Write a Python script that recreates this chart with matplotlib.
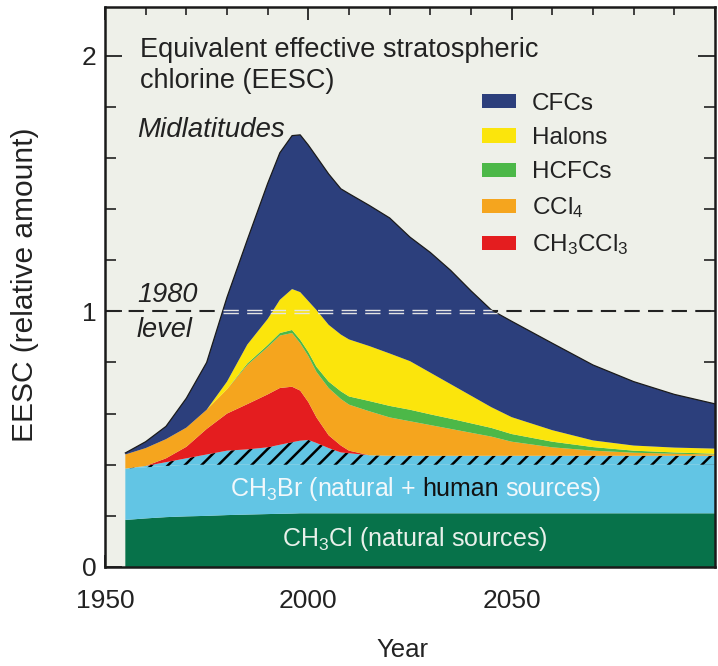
import numpy as np
import matplotlib
matplotlib.use("Agg")
import matplotlib.pyplot as plt
from matplotlib.ticker import MultipleLocator

# ---------------- data (relative EESC contributions, stacked bottom -> top) -------------
years = [1955, 1960, 1965, 1970, 1975, 1980, 1985, 1990, 1993, 1996, 1998, 2000, 2002,
         2005, 2008, 2010, 2015, 2020, 2025, 2030, 2035, 2040, 2045, 2050, 2060, 2070,
         2080, 2090, 2100]

ch3cl = [0.184, 0.190, 0.195, 0.198, 0.200, 0.203, 0.205, 0.207, 0.208, 0.209, 0.210,
         0.210, 0.210, 0.210, 0.210, 0.210, 0.210, 0.210, 0.210, 0.210, 0.210, 0.210,
         0.210, 0.210, 0.210, 0.210, 0.210, 0.210, 0.210]
ch3br_natural = [0.201, 0.200, 0.200, 0.202, 0.200, 0.197, 0.195, 0.193, 0.192, 0.191,
                 0.190, 0.190, 0.190, 0.190, 0.190, 0.190, 0.190, 0.190, 0.190, 0.190,
                 0.190, 0.190, 0.190, 0.190, 0.190, 0.190, 0.190, 0.190, 0.190]
ch3br_human = [0.000, 0.005, 0.015, 0.025, 0.040, 0.055, 0.060, 0.068, 0.078, 0.088,
               0.094, 0.097, 0.085, 0.065, 0.048, 0.045, 0.037, 0.035, 0.035, 0.035,
               0.035, 0.035, 0.035, 0.035, 0.035, 0.035, 0.035, 0.035, 0.035]
ch3ccl3 = [0.000, 0.000, 0.015, 0.045, 0.100, 0.145, 0.177, 0.207, 0.222, 0.217, 0.196,
           0.148, 0.100, 0.050, 0.027, 0.010, 0.000, 0.000, 0.000, 0.000, 0.000, 0.000,
           0.000, 0.000, 0.000, 0.000, 0.000, 0.000, 0.000]
ccl4 = [0.055, 0.070, 0.075, 0.075, 0.075, 0.095, 0.153, 0.185, 0.205, 0.210, 0.185,
        0.180, 0.178, 0.185, 0.182, 0.180, 0.172, 0.150, 0.135, 0.120, 0.105, 0.090,
        0.075, 0.055, 0.033, 0.020, 0.012, 0.008, 0.005]
hcfcs = [0.000, 0.000, 0.000, 0.000, 0.000, 0.000, 0.006, 0.008, 0.010, 0.012, 0.014,
         0.016, 0.020, 0.025, 0.030, 0.032, 0.040, 0.045, 0.045, 0.042, 0.040, 0.037,
         0.034, 0.030, 0.022, 0.014, 0.008, 0.005, 0.003]
halons = [0.000, 0.000, 0.000, 0.000, 0.000, 0.030, 0.074, 0.102, 0.130, 0.160, 0.186,
          0.199, 0.222, 0.222, 0.222, 0.223, 0.215, 0.205, 0.190, 0.163, 0.135, 0.108,
          0.081, 0.066, 0.045, 0.026, 0.020, 0.019, 0.020]
cfcs = [0.006, 0.025, 0.050, 0.115, 0.185, 0.330, 0.410, 0.530, 0.575, 0.600, 0.615,
        0.610, 0.600, 0.590, 0.570, 0.570, 0.550, 0.530, 0.485, 0.470, 0.445, 0.410,
        0.380, 0.375, 0.340, 0.295, 0.250, 0.208, 0.175]

legend_labels = ['CFCs', 'Halons', 'HCFCs', 'CCl$_4$', 'CH$_3$CCl$_3$']
xtick_values = [1950, 2000, 2050, 2100]
xtick_labels = ['1950', '2000', '2050', '']
ytick_values = [0, 1, 2]
ytick_labels = ['0', '1', '2']
level_1980 = 1.0

# ---------------- style -------------
plt.rcParams['font.family'] = ['Liberation Sans', 'DejaVu Sans']
plt.rcParams['mathtext.fontset'] = 'custom'
plt.rcParams['mathtext.rm'] = 'Liberation Sans'
plt.rcParams['mathtext.it'] = 'Liberation Sans:italic'
plt.rcParams['mathtext.bf'] = 'Liberation Sans:bold'
plt.rcParams['hatch.linewidth'] = 1.8
plt.rcParams['hatch.color'] = 'black'
plt.rcParams['lines.scale_dashes'] = False

W, H = 718, 666
fig = plt.figure(figsize=(W / 100, H / 100), dpi=100)
ax = fig.add_axes([105 / W, 1 - 567 / H, 610 / W, 560 / H])
ax.set_facecolor('#eef0e9')
ax.set_xlim(1950, 2100)
ax.set_ylim(0, 2.19)

layers = [ch3cl, ch3br_natural, ch3br_human, ch3ccl3, ccl4, hcfcs, halons, cfcs]
colors = ['#07724a', '#62c5e4', '#62c5e4', '#e41d1f', '#f5a51e', '#4cb848',
          '#fbe50c', '#2c3f7c']
polys = ax.stackplot(years, layers, colors=colors, linewidth=0, zorder=2)
polys[2].set_hatch('//')
polys[2].set_edgecolor('black')
polys[2].set_linewidth(0)

total = np.sum(np.array(layers), axis=0)
ax.plot(years, total, color='#1b1b1b', lw=0.9, zorder=4)

# 1980 level line: black over background, light double dashes over the areas
ax.axhline(level_1980, color='#222222', lw=1.5, dashes=(11, 6), zorder=1)
clip = ax.fill_between(years, 0, total, facecolor='none', edgecolor='none')
for dy in (-0.006, 0.006):
    ln = ax.axhline(level_1980 + dy, color='#e4e4e4', lw=1.0, dashes=(11, 6), zorder=5)
    ln.set_clip_path(clip.get_paths()[0], ax.transData)

# ticks
ax.set_xticks(xtick_values, labels=xtick_labels)
ax.xaxis.set_minor_locator(MultipleLocator(10))
ax.set_yticks(ytick_values, labels=ytick_labels)
ax.yaxis.set_minor_locator(MultipleLocator(0.2))
ax.tick_params(axis='x', which='major', direction='in', length=9, width=1.3,
               top=True, bottom=True, labelsize=19, pad=16, colors='#222222')
ax.tick_params(axis='x', which='minor', direction='in', length=5.5, width=1.2,
               top=True, bottom=True, colors='#222222')
ax.tick_params(axis='y', which='major', direction='in', length=12, width=1.3,
               left=True, right=True, labelsize=19, pad=6, colors='#222222')
ax.tick_params(axis='y', which='minor', direction='in', length=8, width=1.2,
               left=True, right=True, colors='#222222')
for s in ax.spines.values():
    s.set_linewidth(1.8)
    s.set_color('#1a1a1a')

# axis labels
fig.text(25 / W, 1 - 285 / H, 'EESC (relative amount)', rotation=90, ha='center',
         va='center', fontsize=21.5, color='#222222')
fig.text(402 / W, 1 - 650 / H, 'Year', ha='center', va='center', fontsize=18.5,
         color='#222222')

# annotations
fig.text(140 / W, 1 - 57 / H, 'Equivalent effective stratospheric', fontsize=19.5,
         va='baseline', ha='left', color='#222222')
fig.text(140 / W, 1 - 88 / H, 'chlorine (EESC)', fontsize=19.5, va='baseline',
         ha='left', color='#222222')
fig.text(137 / W, 1 - 137 / H, 'Midlatitudes', fontsize=20, style='italic',
         va='baseline', ha='left', color='#222222')
fig.text(137 / W, 1 - 302 / H, '1980', fontsize=19.5, style='italic',
         va='baseline', ha='left', color='#222222')
fig.text(137 / W, 1 - 337 / H, 'level', fontsize=19.5, style='italic',
         va='baseline', ha='left', color='#222222')

# labels inside the bottom bands (CH3Br label has "human" in dark text)
renderer = fig.canvas.get_renderer()
x0, yb, fs = 1980.7, 0.278, 18


def measure(s):
    t = ax.text(x0, yb, s, fontsize=fs, ha='left', va='baseline')
    bb = t.get_window_extent(renderer)
    t.remove()
    return bb


x_h_end = measure('CH$_3$Br (natural + human').x1
x_full_end = measure('CH$_3$Br (natural + human sources)').x1
y_base = ax.transData.transform((x0, yb))[1]
ax.text(x0, yb, 'CH$_3$Br (natural +', fontsize=fs, color='#f2f8fb', ha='left',
        va='baseline', zorder=6)
ax.text(x_h_end, y_base, 'human', fontsize=fs, color='#111111', ha='right',
        va='baseline', transform=None, zorder=7)
ax.text(x_full_end, y_base, 'sources)', fontsize=fs, color='#f2f8fb', ha='right',
        va='baseline', transform=None, zorder=6)
ax.text(1993.5, 0.082, 'CH$_3$Cl (natural sources)', fontsize=fs, color='#e8f0ea',
        ha='left', va='baseline', zorder=6)

# legend
handles = [polys[7], polys[6], polys[5], polys[4], polys[3]]
leg = ax.legend(handles, legend_labels, loc='upper left',
                bbox_to_anchor=(482 / W, 1 - 93 / H), bbox_transform=fig.transFigure,
                frameon=False, fontsize=17.5, handlelength=1.4, handleheight=0.52,
                handletextpad=0.65, labelspacing=0.5, borderpad=0, borderaxespad=0)
for t in leg.get_texts():
    t.set_color('#222222')

fig.savefig('out.png', dpi=100)
